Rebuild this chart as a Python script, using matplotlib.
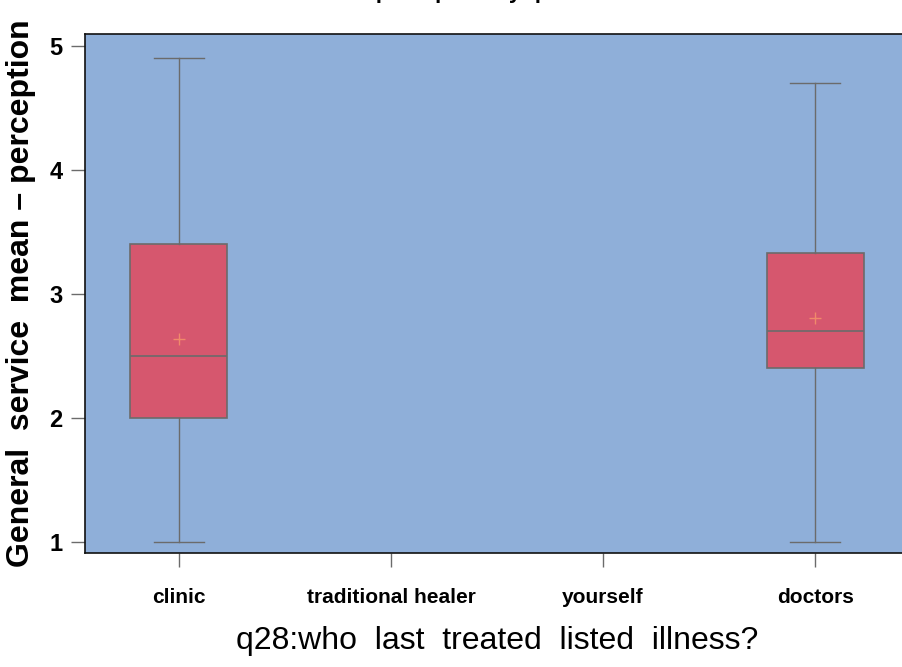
import matplotlib
matplotlib.use("Agg")
import matplotlib.pyplot as plt

# Data: who last treated the listed illness vs. general service perception
categories = ["clinic", "traditional healer", "yourself", "doctors"]
q1_vals = [2.0, None, None, 2.4]
median_vals = [2.5, None, None, 2.7]
q3_vals = [3.4, None, None, 3.33]
whisker_low = [1.0, None, None, 1.0]
whisker_high = [4.9, None, None, 4.7]
mean_vals = [2.635, None, None, 2.81]
y_ticks = [1, 2, 3, 4, 5]

plt.rcParams["font.family"] = ["Liberation Sans", "DejaVu Sans"]

bg = "#8FAFD9"
box_fill = "#D6576E"
edge = "#6B6B6B"

fig = plt.figure(figsize=(9.03, 6.67), dpi=100)
ax = fig.add_axes([85 / 903, 1 - 553 / 667, (909 - 85) / 903, (553 - 34) / 667])
ax.set_facecolor(bg)

positions = list(range(1, len(categories) + 1))
stats, stat_pos = [], []
for i, cat in enumerate(categories):
    if median_vals[i] is None:
        continue
    stats.append(dict(label=cat, med=median_vals[i], q1=q1_vals[i], q3=q3_vals[i],
                      whislo=whisker_low[i], whishi=whisker_high[i],
                      mean=mean_vals[i], fliers=[]))
    stat_pos.append(positions[i])

ax.bxp(stats, positions=stat_pos, widths=0.458, patch_artist=True, showmeans=True,
       boxprops=dict(facecolor=box_fill, edgecolor=edge, linewidth=1.2),
       medianprops=dict(color=edge, linewidth=1.2),
       whiskerprops=dict(color=edge, linewidth=1.0),
       capprops=dict(color=edge, linewidth=1.0),
       meanprops=dict(marker="+", markeredgecolor="#F08A6A", markersize=9,
                      markeredgewidth=1.0),
       capwidths=0.235, manage_ticks=False)

ax.set_xlim(0.557, 4.443)
ax.set_ylim(0.911, 5.097)
ax.set_xticks(positions)
ax.set_xticklabels(categories, fontsize=15, fontweight="bold")
ax.set_yticks(y_ticks)
ax.set_yticklabels([str(t) for t in y_ticks], fontsize=17, fontweight="bold")
ax.tick_params(axis="both", direction="out", length=10, width=1.0, color=edge)
ax.tick_params(axis="x", pad=15)
ax.tick_params(axis="y", pad=6)

for side in ["left", "top", "bottom"]:
    ax.spines[side].set_color("#111111")
    ax.spines[side].set_linewidth(1.2)
ax.spines["right"].set_visible(False)

ax.set_xlabel("q28:who  last  treated  listed  illness?", fontsize=23, labelpad=14)
ax.set_ylabel("General  service  mean \u2013 perception", fontsize=23,
              fontweight="bold", labelpad=10)

# Chart title sits above the top edge of the canvas; only its lowest strokes show
fig.text(0.555, 1 + 1.5 / 667,
         "General service mean \u2013 perception by q28:who last treated listed illness",
         ha="center", va="baseline", fontsize=16, fontweight="bold")

fig.savefig("out.png", dpi=100)
